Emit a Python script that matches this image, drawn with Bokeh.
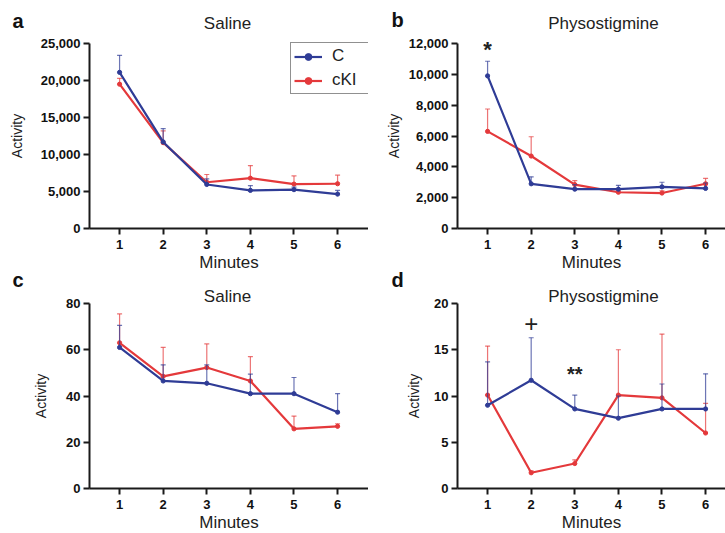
from bokeh.plotting import figure
from bokeh.layouts import gridplot
from bokeh.models import (FixedTicker, NumeralTickFormatter, Range1d, Label, Legend, LegendItem)
from bokeh.embed import file_html
from bokeh.resources import INLINE
from bokeh.core.properties import value

minutes = [1, 2, 3, 4, 5, 6]
tick_labels = ["1", "2", "3", "4", "5", "6"]

# Panel a - Saline (activity counts)
a_C_mean = [21100, 11700, 5950, 5150, 5250, 4650]
a_C_top = [23400, 13500, 6700, 5800, 5600, 5150]
a_cKI_mean = [19500, 11600, 6250, 6800, 6000, 6050]
a_cKI_top = [20300, 13200, 7300, 8500, 7100, 7200]
a_yticks = [0, 5000, 10000, 15000, 20000, 25000]

# Panel b - Physostigmine (activity counts)
b_C_mean = [9900, 2900, 2550, 2550, 2700, 2600]
b_C_top = [10850, 3350, 2850, 2800, 3000, 2950]
b_cKI_mean = [6300, 4700, 2850, 2350, 2300, 2900]
b_cKI_top = [7750, 5950, 3100, 2500, 2450, 3250]
b_yticks = [0, 2000, 4000, 6000, 8000, 10000, 12000]

# Panel c - Saline
c_C_mean = [61, 46.5, 45.5, 41, 41, 33]
c_C_top = [70.5, 53.5, 53.5, 49.5, 48, 41]
c_cKI_mean = [63, 48.5, 52.3, 46.5, 25.8, 26.9]
c_cKI_top = [75.5, 61, 62.5, 57, 31.3, 28]
c_yticks = [0, 20, 40, 60, 80]

# Panel d - Physostigmine
d_C_mean = [9.0, 11.7, 8.6, 7.6, 8.6, 8.6]
d_C_top = [13.7, 16.3, 10.1, 10.0, 11.3, 12.4]
d_cKI_mean = [10.1, 1.7, 2.7, 10.1, 9.8, 6.0]
d_cKI_top = [15.4, 1.9, 3.1, 15.0, 16.7, 9.2]
d_yticks = [0, 5, 10, 15, 20]

BLUE = "#2f3c96"
RED = "#e4393b"
FONT = "Liberation Sans"

# layout (pixels)
AX_PX = 89          # y-axis position from panel left
PX_PER_MIN = 43.6   # horizontal pixels per minute
X_AT_AXIS = 0.31    # minute value at the y axis
PLOT_H = 185        # pixel height of the data area


def make_panel(letter, title, C_mean, C_top, K_mean, K_top, yticks, fmt,
               width, height, gap_top, gap_bottom, ylabel_standoff,
               letter_x, letter_y, title_x, title_y, legend=False):
    top = yticks[-1]
    per_px = top / PLOT_H
    x_start = X_AT_AXIS - AX_PX / PX_PER_MIN
    x_end = X_AT_AXIS + (width - AX_PX) / PX_PER_MIN
    p = figure(width=width, height=height, output_backend="svg", toolbar_location=None,
               x_range=Range1d(x_start, x_end),
               y_range=Range1d(-gap_bottom * per_px, top + gap_top * per_px),
               min_border=0, title=None)
    p.outline_line_color = None
    p.xgrid.visible = False
    p.ygrid.visible = False
    p.background_fill_color = "white"
    p.border_fill_color = "white"

    for ax in (p.xaxis[0], p.yaxis[0]):
        ax.axis_line_width = 2
        ax.axis_line_color = "#1a1a1a"
        ax.major_tick_line_width = 2
        ax.major_tick_line_color = "#1a1a1a"
        ax.major_tick_out = 6
        ax.major_tick_in = 0
        ax.minor_tick_line_color = None
        ax.major_label_text_font = FONT
        ax.major_label_text_font_size = "13px"
        ax.major_label_text_font_style = "bold"
        ax.major_label_text_color = "#111111"
        ax.axis_label_text_font = FONT
        ax.axis_label_text_font_style = "normal"
        ax.axis_label_text_color = "#222222"

    xa = p.xaxis[0]
    xa.fixed_location = 0
    xa.bounds = (X_AT_AXIS, x_end)
    xa.ticker = FixedTicker(ticks=minutes)
    xa.major_label_overrides = {m: t for m, t in zip(minutes, tick_labels)}
    xa.axis_label = "Minutes"
    xa.axis_label_text_font_size = "17px"
    xa.axis_label_standoff = 1
    xa.major_label_standoff = 5

    ya = p.yaxis[0]
    ya.fixed_location = X_AT_AXIS
    ya.bounds = (0, top)
    ya.ticker = FixedTicker(ticks=yticks)
    if fmt:
        ya.formatter = NumeralTickFormatter(format="0,0")
    ya.axis_label = "Activity"
    ya.axis_label_text_font_size = "14px"
    ya.axis_label_standoff = ylabel_standoff
    ya.major_label_standoff = 3

    items = []
    for mean, etop, col, name in ((K_mean, K_top, RED, "cKI"), (C_mean, C_top, BLUE, "C")):
        p.segment(x0=minutes, y0=mean, x1=minutes, y1=etop, line_color=col,
                  line_width=1.2, line_alpha=0.7)
        p.scatter(x=minutes, y=etop, marker="dash", size=5, line_color=col,
                  line_width=1.2, line_alpha=0.7)
        ln = p.line(x=minutes, y=mean, line_color=col, line_width=2.2)
        sc = p.scatter(x=minutes, y=mean, marker="circle", size=4.2, fill_color=col,
                       line_color=col)
        items.append((name, [ln, sc]))

    if legend:
        lg = Legend(items=[LegendItem(label=n, renderers=r) for n, r in reversed(items)],
                    location=(290, height - 94))
        lg.border_line_color = "#222222"
        lg.border_line_width = 1.5
        lg.margin = 0
        lg.padding = 3
        lg.spacing = 4
        lg.glyph_width = 28
        lg.glyph_height = 17
        lg.label_height = 17
        lg.label_width = 33
        lg.label_standoff = 10
        lg.label_text_font = FONT
        lg.label_text_font_size = "17px"
        lg.label_text_color = "#222222"
        lg.background_fill_alpha = 1
        p.add_layout(lg)

    p.add_layout(Label(x=letter_x, y=height - letter_y, x_units="screen", y_units="screen",
                       text=letter, text_font=FONT, text_font_style="bold",
                       text_font_size="20px", text_color="#111111", text_baseline="middle"))
    p.add_layout(Label(x=title_x, y=height - title_y, x_units="screen", y_units="screen",
                       text=title, text_font=FONT, text_font_size="17px",
                       text_color="#222222", text_align="center", text_baseline="middle"))
    return p


pa = make_panel("a", "Saline", a_C_mean, a_C_top, a_cKI_mean, a_cKI_top, a_yticks, True,
                368, 270, 43, 42, 13, 12, 20, 227, 23, legend=True)
pb = make_panel("b", "Physostigmine", b_C_mean, b_C_top, b_cKI_mean, b_cKI_top, b_yticks, True,
                357, 270, 43, 42, 4, 23, 19, 235, 23)
pc = make_panel("c", "Saline", c_C_mean, c_C_top, c_cKI_mean, c_cKI_top, c_yticks, False,
                368, 263, 33, 45, 14, 12, 9, 227, 26)
pd = make_panel("d", "Physostigmine", d_C_mean, d_C_top, d_cKI_mean, d_cKI_top, d_yticks, False,
                357, 263, 33, 45, 9, 23, 9, 235, 26)

# significance markers
pb.text(x=[1], y=[11600], text=["*"], text_font=value(FONT), text_font_size="22px",
        text_font_style="bold", text_align="center", text_baseline="middle", text_color="#222222")
pd.text(x=[2], y=[17.8], text=["+"], text_font=value(FONT), text_font_size="24px",
        text_align="center", text_baseline="middle", text_color="#222222")
pd.text(x=[3], y=[12.4], text=["**"], text_font=value(FONT), text_font_size="20px",
        text_font_style="bold", text_align="center", text_baseline="middle", text_color="#222222")

grid = gridplot([[pa, pb], [pc, pd]], toolbar_location=None)

open("out.html", "w").write(file_html(grid, INLINE))
